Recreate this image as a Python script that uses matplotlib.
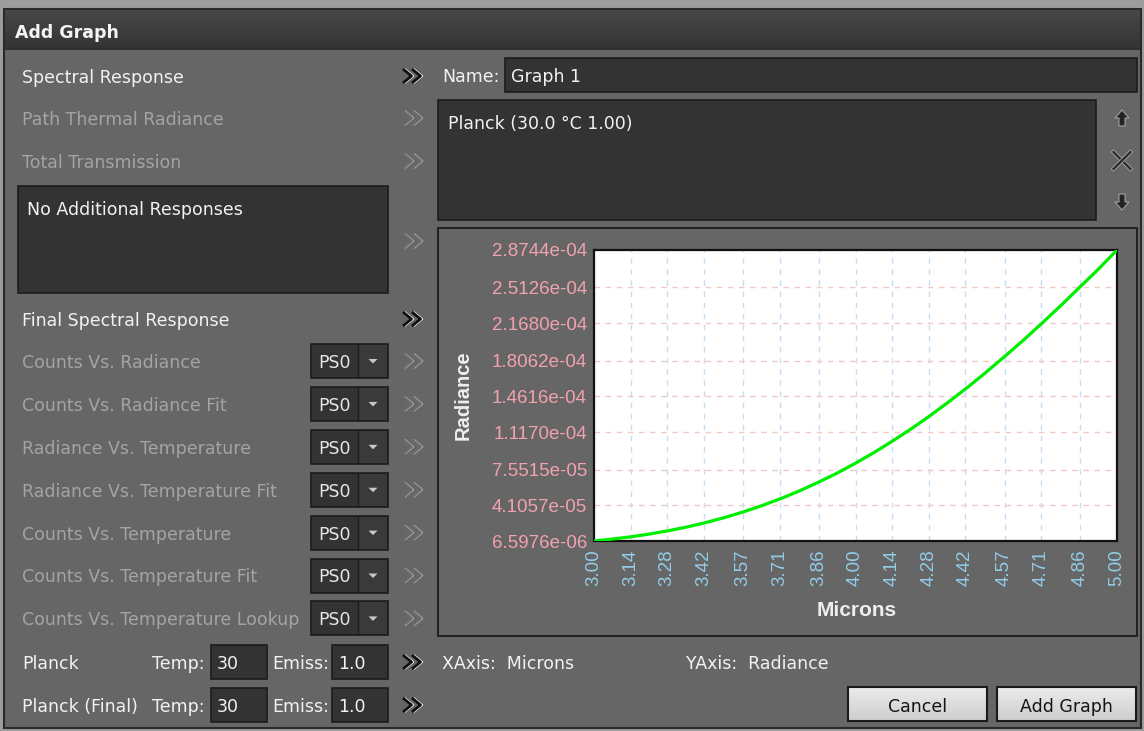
import matplotlib
matplotlib.use("Agg")
import matplotlib.pyplot as plt
import matplotlib.patches as mpatches
import numpy as np

plt.rcParams['font.family'] = 'DejaVu Sans'

# curve values (Planck 30 C, emissivity 1.00)
microns = [3.000, 3.071, 3.143, 3.214, 3.286, 3.357, 3.429, 3.500, 3.571, 3.643,
           3.714, 3.786, 3.857, 3.929, 4.000, 4.071, 4.143, 4.214, 4.286, 4.357,
           4.429, 4.500, 4.571, 4.643, 4.714, 4.786, 4.857, 4.929, 5.000]
radiance = [6.6e-06, 8.5e-06, 1.07e-05, 1.34e-05, 1.66e-05, 2.02e-05, 2.45e-05, 2.93e-05,
            3.47e-05, 4.08e-05, 4.75e-05, 5.5e-05, 6.32e-05, 7.2e-05, 8.17e-05, 9.2e-05,
            1.033e-04, 1.15e-04, 1.277e-04, 1.41e-04, 1.55e-04, 1.696e-04, 1.848e-04, 2.006e-04,
            2.17e-04, 2.34e-04, 2.514e-04, 2.69e-04, 2.8744e-04]

ytick_labels = ['6.5976e-06', '4.1057e-05', '7.5515e-05', '1.1170e-04', '1.4616e-04',
                '1.8062e-04', '2.1680e-04', '2.5126e-04', '2.8744e-04']
xtick_labels = ['3.00', '3.14', '3.28', '3.42', '3.57', '3.71', '3.86', '4.00',
                '4.14', '4.28', '4.42', '4.57', '4.71', '4.86', '5.00']

top_rows = ['Spectral Response', 'Path Thermal Radiance', 'Total Transmission']
top_enabled = [True, False, False]
ps_rows = ['Counts Vs. Radiance', 'Counts Vs. Radiance Fit', 'Radiance Vs. Temperature',
           'Radiance Vs. Temperature Fit', 'Counts Vs. Temperature',
           'Counts Vs. Temperature Fit', 'Counts Vs. Temperature Lookup']
planck_rows = ['Planck', 'Planck (Final)']
planck_temp = ['30', '30']
planck_emiss = ['1.0', '1.0']

W, H = 1144, 731
fig = plt.figure(figsize=(W / 100, H / 100), dpi=100)
fig.patch.set_facecolor('#9c9c9c')

ui = fig.add_axes([0, 0, 1, 1])
ui.set_xlim(0, W)
ui.set_ylim(H, 0)
ui.axis('off')

WHITE = '#f2f2f2'
GREY = '#a4a4a4'
FS = 12.5


def box(x0, y0, x1, y1, fc='#333333', ec='#1c1c1c', lw=1.2, z=1):
    ui.add_patch(mpatches.Rectangle((x0, y0), x1 - x0, y1 - y0, fc=fc, ec=ec, lw=lw, zorder=z))


def label(x, y, s, color=WHITE, size=FS, **kw):
    ui.text(x, y, s, color=color, fontsize=size, va='center_baseline', ha=kw.pop('ha', 'left'), zorder=5, **kw)


def gradient(x0, y0, x1, y1, c_top, c_bot, z=2):
    a = np.array(matplotlib.colors.to_rgb(c_top))
    b = np.array(matplotlib.colors.to_rgb(c_bot))
    t = np.linspace(0, 1, 64)[:, None, None]
    img = a * (1 - t) + b * t
    ui.imshow(img, extent=(x0, x1, y1, y0), aspect='auto', zorder=z, interpolation='bilinear')


def chevrons(x, y, on=True):
    dark, light = ('#101010', '#f4f4f4') if on else ('#6a6a6a', '#b4b4b4')
    for dx in (0, 9):
        xs = [x + dx, x + dx + 8.5, x + dx]
        ys = [y - 7, y, y + 7]
        ui.plot([v + 1.4 for v in xs], ys, color=light, lw=1.7, zorder=6, solid_capstyle='butt')
        ui.plot(xs, ys, color=dark, lw=2.0, zorder=7, solid_capstyle='butt')


def arrow_icon(x, y, up=True):
    s = -1 if up else 1
    pts = [[x, y + s * 8], [x + 7, y], [x + 3, y], [x + 3, y - s * 8],
           [x - 3, y - s * 8], [x - 3, y], [x - 7, y]]
    ui.add_patch(mpatches.Polygon(pts, fc='#242424', ec='#a0a0a0', lw=0.8, zorder=4))


# window frame + title bar
box(4, 9, 1141, 728, fc='#666666', ec='#2a2a2a', lw=1.5, z=0)
gradient(5, 10, 1140, 48, '#484848', '#343434')
ui.plot([5, 1140], [48.5, 48.5], color='#262626', lw=1.2, zorder=3)
label(15, 31, 'Add Graph', size=12.5, fontweight='bold', color='#f4f4f4')

# left column
row_y = [76, 118, 161]
for txt, on, y in zip(top_rows, top_enabled, row_y):
    label(22, y, txt, color=WHITE if on else GREY)
    chevrons(403, y, on)

box(18, 186, 388, 293)
label(27, 208, 'No Additional Responses')
chevrons(403, 241, False)

label(22, 319, 'Final Spectral Response')
chevrons(403, 319, True)

for i, txt in enumerate(ps_rows):
    y = 361 + i * 42.9
    label(22, y, txt, color=GREY)
    box(311, y - 17, 388, y + 17)
    box(358, y - 16, 387, y + 16, fc='#3a3a3a', ec='none', lw=0, z=2)
    ui.plot([358, 358], [y - 16, y + 16], color='#1c1c1c', lw=1, zorder=3)
    ui.add_patch(mpatches.Polygon([[368.5, y - 2], [377.5, y - 2], [373, y + 2.5]],
                                  fc='#c8c8c8', ec='none', zorder=4))
    label(318, y, 'PS0', color='#e6e6e6')
    chevrons(403, y, False)

for i, txt in enumerate(planck_rows):
    y = 662 + i * 43
    label(22, y, txt)
    label(152, y, 'Temp:')
    box(211, y - 17, 267, y + 17)
    label(217, y, planck_temp[i])
    label(272, y, 'Emiss:')
    box(332, y - 17, 388, y + 17)
    label(338, y, planck_emiss[i])
    chevrons(403, y, True)

# right column
label(442, 75, 'Name:')
box(505, 58, 1137, 92)
label(511, 75, 'Graph 1')
box(438, 100, 1096, 220)
label(448, 122, 'Planck (30.0 \u00b0C 1.00)')

# list icons
arrow_icon(1122, 118, up=True)
arrow_icon(1122, 202, up=False)
for ys in ([152, 169], [169, 152]):
    ui.plot([1113.5, 1130.5], ys, color='#a8a8a8', lw=2.8, zorder=4)
    ui.plot([1113.5, 1130.5], ys, color='#262626', lw=1.6, zorder=4)

# graph panel
box(438, 228, 1137, 636, fc='#666666', ec='#222222', lw=1.5, z=1)

label(442, 662, 'XAxis:  Microns')
label(686, 662, 'YAxis:  Radiance')

for x0, x1, txt in [(848, 987, 'Cancel'), (997, 1136, 'Add Graph')]:
    gradient(x0, 687, x1, 721, '#ececec', '#cdcdcd', z=2)
    ui.add_patch(mpatches.Rectangle((x0, 687), x1 - x0, 34, fc='none', ec='#1a1a1a', lw=1.5, zorder=3))
    label((x0 + x1) / 2, 705, txt, color='#141414', ha='center')

# chart
x0, y0, x1, y1 = 594, 250, 1117, 541
ax = fig.add_axes([x0 / W, 1 - y1 / H, (x1 - x0) / W, (y1 - y0) / H])
ax.set_facecolor('white')
ax.plot(microns, radiance, color='#00ee00', lw=2.3, zorder=3)
ax.set_xlim(3.0, 5.0)
ax.set_ylim(float(ytick_labels[0]), float(ytick_labels[-1]))
ax.set_xticks([float(s) for s in xtick_labels])
ax.set_xticklabels(xtick_labels, rotation=90, family='Liberation Sans', fontsize=13.5, color='#92cde8')
ax.set_yticks([float(s) for s in ytick_labels])
ax.set_yticklabels(ytick_labels, family='Liberation Sans', fontsize=13.5, color='#f2a2ae')
ax.tick_params(axis='both', length=0)
ax.tick_params(axis='y', pad=5)
ax.tick_params(axis='x', pad=6)
ax.grid(axis='x', color='#c4def6', ls=(0, (4, 4)), lw=1)
ax.grid(axis='y', color='#f0c8c8', ls=(0, (4, 4)), lw=1)
for sp in ax.spines.values():
    sp.set_color('#111111')
    sp.set_linewidth(1.6)

ax.set_ylabel('Radiance', family='Liberation Sans', fontweight='bold', fontsize=14.5, color='#eeeeee')
ax.yaxis.set_label_coords(-0.232, 0.5)
ax.set_xlabel('Microns', family='Liberation Sans', fontweight='bold', fontsize=15, color='#eeeeee')
ax.xaxis.set_label_coords(0.503, -0.205)

fig.savefig('out.png', dpi=100, facecolor=fig.get_facecolor())
